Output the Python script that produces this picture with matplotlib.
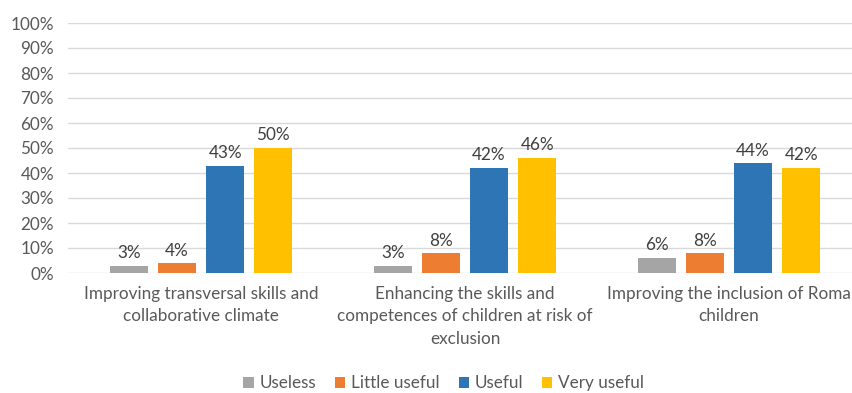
import matplotlib.pyplot as plt
import numpy as np

plt.rcParams['font.family'] = ['Lato', 'DejaVu Sans']

# respuestas por categoria
categorias = ["Improving transversal skills and\ncollaborative climate",
              "Enhancing the skills and\ncompetences of children at risk of\nexclusion",
              "Improving the inclusion of Roma\nchildren"]
series = ["Useless", "Little useful", "Useful", "Very useful"]
useless = [3, 3, 6]
little_useful = [4, 8, 8]
useful = [43, 42, 44]
very_useful = [50, 46, 42]
colores = ["#A5A5A5", "#ED7D31", "#2E75B6", "#FFC000"]

valores = [useless, little_useful, useful, very_useful]
fs = 12.3

fig = plt.figure(figsize=(8.52, 3.93), dpi=100)
ax = fig.add_axes([68 / 852, 1 - 273 / 393, 1 - 68 / 852, 250 / 393])

x = np.arange(len(categorias))
paso = 0.1825
ancho = 0.144
for i, (nombre, vals) in enumerate(zip(series, valores)):
    pos = x + (i - 1.5) * paso
    barras = ax.bar(pos, vals, ancho, color=colores[i], label=nombre, zorder=3)
    for b, v in zip(barras, vals):
        ax.text(b.get_x() + b.get_width() / 2, v + 1.8, "{}%".format(v),
                ha="center", va="bottom", fontsize=fs, color="#404040")

ax.set_ylim(0, 100)
ax.set_yticks(range(0, 101, 10))
ax.set_yticklabels(["{}%".format(t) for t in range(0, 101, 10)])
ax.set_xlim(-0.504, 2.466)
ax.set_xticks(x)
ax.set_xticklabels(categorias, fontsize=fs, color="#595959", linespacing=1.5)
ax.tick_params(axis="x", length=0, pad=9)
ax.tick_params(axis="y", length=0, labelsize=fs, labelcolor="#595959", pad=10)
ax.grid(axis="y", color="#D9D9D9", linewidth=1, zorder=0)
for s in ax.spines.values():
    s.set_visible(False)

fig.legend(loc="lower center", bbox_to_anchor=(0.521, -0.035), ncol=4, frameon=False,
           fontsize=fs, handlelength=0.6, handleheight=0.6, handletextpad=0.35,
           columnspacing=1.1, labelcolor="#595959")

plt.savefig("out.png")
